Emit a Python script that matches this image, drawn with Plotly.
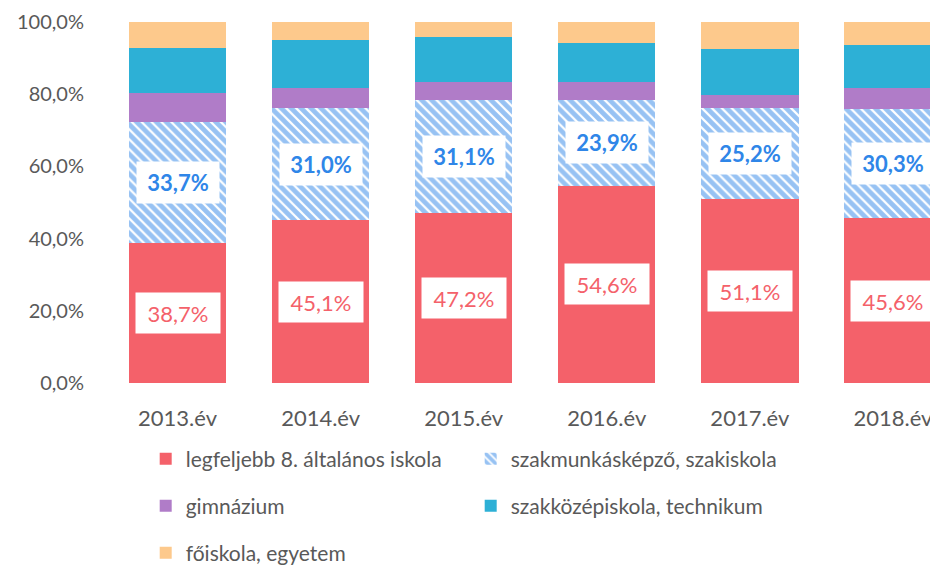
import plotly.graph_objects as go

years = ["2013.év", "2014.év", "2015.év", "2016.év", "2017.év", "2018.év"]
alt8 = [38.7, 45.1, 47.2, 54.6, 51.1, 45.6]
szakmunkas = [33.7, 31.0, 31.1, 23.9, 25.2, 30.3]
gimnazium = [7.9, 5.6, 5.1, 4.9, 3.5, 5.8]
szakkozep = [12.5, 13.3, 12.4, 10.8, 12.7, 11.9]
foiskola = [7.2, 5.0, 4.2, 5.8, 7.5, 6.4]

names = ["legfeljebb 8. általános iskola", "szakmunkásképző, szakiskola",
         "gimnázium", "szakközépiskola, technikum", "főiskola, egyetem"]

RED = "#F4616A"
BLUE = "#2F86E8"
PURPLE = "#B07CC8"
CYAN = "#2DB0D6"
PEACH = "#FDC98C"
FONT = "Lato"
GREY = "#595959"

fig = go.Figure()
series = [alt8, szakmunkas, gimnazium, szakkozep, foiskola]
colors = [RED, BLUE, PURPLE, CYAN, PEACH]
legends = ["legend", "legend", "legend2", "legend2", "legend3"]
for i, (vals, col) in enumerate(zip(series, colors)):
    marker = dict(color=col, line=dict(width=0))
    if i == 1:
        marker = dict(color="white", line=dict(width=0),
                      pattern=dict(shape="\\", fgcolor=BLUE, bgcolor="white",
                                   size=7, solidity=0.68, fillmode="overlay"))
    fig.add_trace(go.Bar(x=years, y=[v / 100 for v in vals], name=names[i],
                         marker=marker, legend=legends[i], hoverinfo="skip"))

# data labels
for j, yr in enumerate(years):
    mid_r = alt8[j] / 200
    fig.add_annotation(x=yr, y=mid_r, text=f"{alt8[j]:.1f}%".replace(".", ","),
                       showarrow=False, bgcolor="white", width=82, height=38,
                       font=dict(family=FONT, size=22, color=RED))
    mid_b = (alt8[j] + szakmunkas[j] / 2) / 100
    fig.add_annotation(x=yr, y=mid_b, text=f"<b>{szakmunkas[j]:.1f}%</b>".replace(".", ","),
                       showarrow=False, bgcolor="white", width=80, height=39,
                       font=dict(family=FONT, size=22, color=BLUE))

leg_common = dict(orientation="h", xref="container", yref="container",
                  xanchor="left", yanchor="top", bgcolor="rgba(0,0,0,0)",
                  traceorder="normal", font=dict(family=FONT, size=21, color=GREY))
fig.update_layout(
    width=938, height=569,
    margin=dict(l=98, r=8, t=14, b=194, autoexpand=False),
    barmode="stack", bargap=0.32,
    plot_bgcolor="white", paper_bgcolor="white",
    separators=", ",
    font=dict(family=FONT, size=20, color=GREY),
    showlegend=True,
    legend=dict(x=0.1468, y=0.2434, entrywidth=280, entrywidthmode="pixels", **leg_common),
    legend2=dict(x=0.1468, y=0.1608, entrywidth=280, entrywidthmode="pixels", **leg_common),
    legend3=dict(x=0.1468, y=0.0782, **leg_common),
)
fig.update_xaxes(type="category", range=[-0.5, 5.315], showgrid=False, showline=False,
                 automargin=False, ticks="", ticklabelstandoff=20,
                 tickfont=dict(family=FONT, size=22, color=GREY))
fig.update_yaxes(range=[0, 1], tickformat=".1%", dtick=0.2, showgrid=False, showline=False,
                 automargin=False, zeroline=False, ticks="", ticklabelstandoff=21,
                 tickfont=dict(family=FONT, size=20, color=GREY))

fig.write_html("out.html")
